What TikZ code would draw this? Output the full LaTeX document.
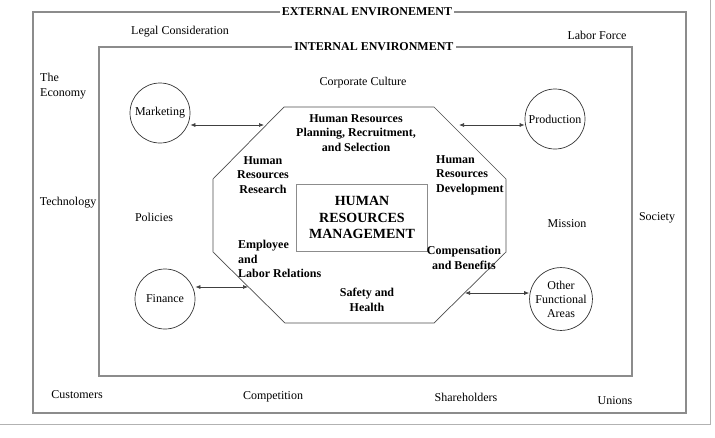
\documentclass[tikz,border=0pt]{standalone}
\usepackage{fontspec}
\setmainfont{Liberation Serif}
\usetikzlibrary{arrows.meta}
\begin{document}
\begin{tikzpicture}[
    x=1pt, y=-1pt,
    frame/.style={draw=gray!90, line width=1.1pt},
    envtitle/.style={fill=white, inner sep=2pt, font=\fontsize{12}{14.5}\selectfont\bfseries},
    env/.style={font=\fontsize{12}{14.5}\selectfont, align=center, inner sep=0pt},
    func/.style={circle, draw=black!80, line width=0.7pt, minimum size=60pt, inner sep=0pt, align=center, font=\fontsize{12}{14}\selectfont},
    task/.style={font=\fontsize{12}{14.5}\selectfont\bfseries, align=center, inner sep=0pt},
    link/.style={{Latex[length=5pt,width=4pt]}-{Latex[length=5pt,width=4pt]}, line width=0.7pt, black!75},
]
\useasboundingbox (0,0) rectangle (715,437);
\draw[gray!60, line width=1pt] (0,424) -- (710,424) -- (710,0);

\draw[frame] (33,12) rectangle (686,413);
\draw[frame] (99,47) rectangle (632,376);
\node[envtitle] (ext) at (367,12) {EXTERNAL ENVIRONEMENT};
\node[envtitle] (int) at (374,47) {INTERNAL ENVIRONMENT};

\node[env] (legal) at (180,32) {Legal Consideration};
\node[env] (labor) at (597,35) {Labor Force};
\node[env, align=left, anchor=west] (econ) at (40,86) {The\\Economy};
\node[env] (tech) at (68,203) {Technology};
\node[env] (soc) at (657,218) {Society};
\node[env] (cust) at (77,395) {Customers};
\node[env] (compet) at (273,397) {Competition};
\node[env] (share) at (466,397) {Shareholders};
\node[env] (unions) at (615,401) {Unions};
\node[env] (culture) at (363,83) {Corporate Culture};
\node[env] (pol) at (154,217) {Policies};
\node[env] (mission) at (567,224) {Mission};

\draw[black!70, line width=0.7pt] (284,107) -- (434,107) -- (506,179) -- (506,252) -- (434,323) -- (285,323) -- (213,252) -- (213,179) -- cycle;
\coordinate (mktIn) at (264,125);
\coordinate (prodIn) at (459,125);
\coordinate (finIn) at (248,287);
\coordinate (othIn) at (465,293);

\node[draw=gray!90, line width=0.9pt, minimum width=131pt, minimum height=67pt, align=center, font=\fontsize{14}{16.5}\selectfont\bfseries] (hrm) at (362,217.5) {HUMAN\\RESOURCES\\MANAGEMENT};
\node[task] (plan) at (356,133) {Human Resources\\Planning, Recruitment,\\and Selection};
\node[task] (research) at (263,175) {Human\\Resources\\Research};
\node[task, align=left, anchor=west] (devel) at (436,175) {Human\\Resources\\Development};
\node[task, align=left, anchor=west] (relat) at (238,259) {Employee\\and\\Labor Relations};
\node[task] (benef) at (464,258) {Compensation\\and Benefits};
\node[task] (safety) at (367,300) {Safety and\\Health};

\node[func] (mkt) at (160,113) {Marketing};
\node[func] (prod) at (555,119) {Production};
\node[func] (fin) at (165,299) {Finance};
\node[func] (oth) at (561,299) {Other\\Functional\\Areas};

\draw[link] (mkt.east |- mktIn) -- (mktIn);
\draw[link] (prodIn) -- (prod.west |- prodIn);
\draw[link] (fin.east |- finIn) -- (finIn);
\draw[link] (othIn) -- (oth.west |- othIn);
\end{tikzpicture}
\end{document}
